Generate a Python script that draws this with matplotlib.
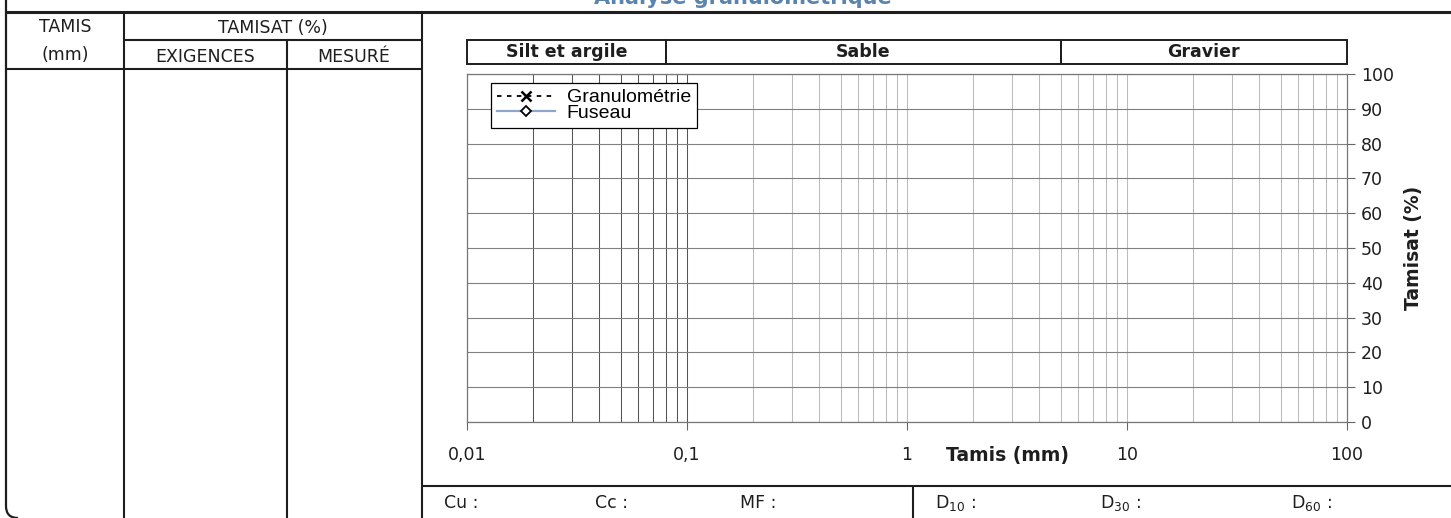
import matplotlib
matplotlib.use("Agg")
import matplotlib.pyplot as plt
from matplotlib.path import Path
from matplotlib.patches import PathPatch, Rectangle
from matplotlib.ticker import LogLocator, NullFormatter
from matplotlib.transforms import blended_transform_factory

# Données (feuille vierge : aucun essai saisi)
tamis_mm = []
tamisat_mesure = []
fuseau_tamis = []
fuseau_tamisat = []

ticks_x = [0.01, 0.1, 1, 10, 100]
labels_x = ["0,01", "0,1", "1", "10", "100"]
ticks_y = list(range(0, 101, 10))

limites_classes = [0.01, 0.08, 5, 100]
classes = ["Silt et argile", "Sable", "Gravier"]

bas_de_page = ["Cu :", "Cc :", "MF :", "D$_{10}$ :", "D$_{30}$ :", "D$_{60}$ :"]
pos_bas_de_page = [444, 595, 740, 935, 1100, 1291]

W, H = 1451, 518
TXT = "DejaVu Sans"
INK = "#1e1e1e"

fig = plt.figure(figsize=(W / 100, H / 100), dpi=100)

# Calque en pixels pour le cadre du formulaire
over = fig.add_axes([0, 0, 1, 1])
over.set_xlim(0, W)
over.set_ylim(H, 0)
over.axis("off")


def trait(xs, ys, lw=1.5):
    over.plot(xs, ys, color=INK, lw=lw, solid_capstyle="butt")


trait([6, W], [12, 12], lw=2.2)
bord = Path([(6, 0), (6, 506), (6, 518), (18, 518)],
            [Path.MOVETO, Path.LINETO, Path.CURVE3, Path.CURVE3])
over.add_patch(PathPatch(bord, fill=False, edgecolor=INK, lw=1.6))
trait([124, 124], [12, H])
trait([287, 287], [40, H])
trait([422, 422], [12, H])
trait([124, 422], [40, 40])
trait([6, 422], [69, 69])
trait([422, W], [486, 486])
trait([913, 913], [486, H])

over.text(743, 4, "Analyse granulométrique", ha="center", va="baseline",
          fontsize=15, fontweight="bold", color="#5a84ad", family=TXT)

entetes = [(65, 27, "TAMIS"), (65, 55, "(mm)"), (273, 28, "TAMISAT (%)"),
           (205, 57, "EXIGENCES"), (354, 57, "MESURÉ")]
for x, y, t in entetes:
    over.text(x, y, t, ha="center", va="center", fontsize=12.5, family=TXT, color=INK)

for x, t in zip(pos_bas_de_page, bas_de_page):
    over.text(x, 503, t, ha="left", va="center", fontsize=12.5, family=TXT, color=INK)

over.text(1008, 456, "Tamis (mm)", ha="center", va="center", fontsize=13.5,
          fontweight="bold", family=TXT, color=INK)
over.text(1413, 248, "Tamisat (%)", ha="center", va="center", rotation=90,
          fontsize=13.5, fontweight="bold", family=TXT, color=INK)

# Graphique
ax = fig.add_axes([467 / W, (H - 422) / H, 880 / W, 348 / H])
ax.patch.set_alpha(0)
ax.set_xscale("log")

ax.plot(tamis_mm, tamisat_mesure, color="black", ls=(0, (2.5, 3)), lw=1.3,
        marker="x", ms=7, mew=1.8, label="Granulométrie")
ax.plot(fuseau_tamis, fuseau_tamisat, color="#8ca6cc", lw=1.6,
        marker="D", ms=5, mfc="white", mec="black", mew=1.3, label="Fuseau")

ax.set_xlim(0.01, 100)
ax.set_ylim(0, 100)
ax.set_xticks(ticks_x, labels_x)
ax.xaxis.set_minor_locator(LogLocator(base=10, subs=range(2, 10), numticks=20))
ax.xaxis.set_minor_formatter(NullFormatter())
ax.set_yticks(ticks_y)
ax.yaxis.tick_right()

ax.tick_params(axis="x", which="minor", length=0)
ax.tick_params(axis="x", which="major", length=6, color="#666", pad=11,
               labelsize=12.5, labelcolor=INK)
ax.tick_params(axis="y", which="major", length=6, color="#666", pad=4,
               labelsize=12.5, labelcolor=INK)
for lab in ax.get_xticklabels() + ax.get_yticklabels():
    lab.set_family(TXT)

ax.grid(True, which="both", axis="x", color="#bcbcbc", lw=0.75)
ax.grid(True, which="major", axis="y", color="#808080", lw=0.8)
for tk in ax.xaxis.get_minor_ticks() + ax.xaxis.get_major_ticks():
    if tk.get_loc() <= 0.1:
        tk.gridline.set_color("#555555")
for sp in ax.spines.values():
    sp.set_color("#777777")
    sp.set_linewidth(0.9)
ax.set_axisbelow(True)

# Bandeau des classes granulométriques
bt = blended_transform_factory(ax.transData, ax.transAxes)
y0 = (422 - 64) / 348
hb = (64 - 40) / 348
for (x0, x1), nom in zip(zip(limites_classes[:-1], limites_classes[1:]), classes):
    ax.add_patch(Rectangle((x0, y0), x1 - x0, hb, transform=bt, fill=False,
                           edgecolor=INK, lw=1.4, clip_on=False))
    ax.text((x0 * x1) ** 0.5, y0 + hb / 2, nom, transform=bt, ha="center",
            va="center", fontsize=12.5, fontweight="bold", family=TXT, color=INK)

leg = ax.legend(loc="upper left", bbox_to_anchor=(24 / 880, (422 - 83) / 348),
                borderaxespad=0, fancybox=False, framealpha=1, edgecolor="black",
                prop={"family": "Liberation Sans", "size": 14}, handlelength=3.0,
                handletextpad=0.6, labelspacing=-0.1, borderpad=0.3, numpoints=1)
leg.get_frame().set_linewidth(0.9)

fig.savefig("out.png", dpi=100)
